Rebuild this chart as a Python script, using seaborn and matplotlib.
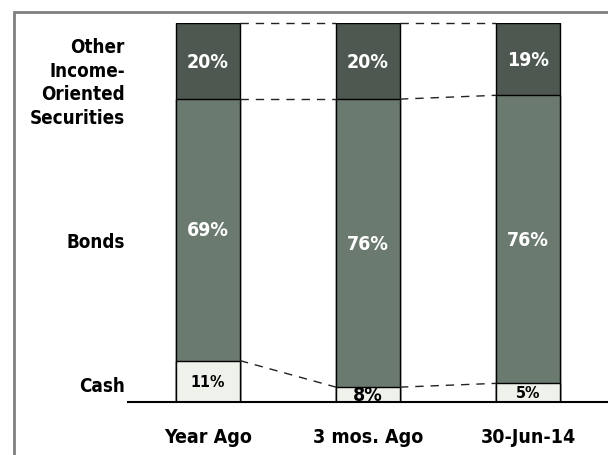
import matplotlib
matplotlib.use("Agg")
import matplotlib.pyplot as plt
import seaborn as sns
import pandas as pd
from matplotlib.patches import Rectangle

# ---- data ----
periods = ["Year Ago", "3 mos. Ago", "30-Jun-14"]
other = [20, 20, 19]
bonds = [69, 76, 76]
cash = [11, 8, 5]
row_labels = ["Other\nIncome-\nOriented\nSecurities", "Bonds", "Cash"]

c_other = "#4E5850"
c_bonds = "#6B7A6F"
c_cash = "#EEF2EB"

sns.set_theme(style="white")
plt.rcParams["font.family"] = ["DejaVu Sans"]
plt.rcParams["font.stretch"] = "condensed"
plt.rcParams["font.weight"] = "bold"

fig = plt.figure(figsize=(6.08, 4.56), dpi=100)
W, H = 608, 456
ax = fig.add_axes([128 / W, (H - 403.3) / H, 480 / W, (403.3 - 24.3) / H])

df = pd.DataFrame({"period": periods, "other": other, "bonds": bonds, "cash": cash})
df["total"] = 100
df["below_other"] = df["total"] - df["other"]          # top of bonds
df["below_bonds"] = df["below_other"] - df["bonds"]    # top of cash

bw = 0.4
sns.barplot(data=df, x="period", y="total", color=c_other, width=bw,
            edgecolor="black", linewidth=1, saturation=1, ax=ax)
sns.barplot(data=df, x="period", y="below_other", color=c_bonds, width=bw,
            edgecolor="black", linewidth=1, saturation=1, ax=ax)
sns.barplot(data=df, x="period", y="below_bonds", color=c_cash, width=bw,
            edgecolor="black", linewidth=1, saturation=1, ax=ax)

ax.set_xlim(-0.5, 2.5)
ax.set_ylim(0, 100)
ax.set_xlabel("")
ax.set_ylabel("")
ax.set_yticks([])
for s in ["top", "right", "left"]:
    ax.spines[s].set_visible(False)
ax.spines["bottom"].set_color("black")
ax.spines["bottom"].set_linewidth(1.5)
ax.tick_params(axis="x", length=0, pad=18, labelsize=14)
for t in ax.get_xticklabels():
    t.set_fontweight("bold")
    t.set_fontstretch("condensed")
    t.set_color("black")

# connectors
for i in range(len(periods) - 1):
    for col in ["total", "below_other", "below_bonds"]:
        ax.plot([i + bw / 2, i + 1 - bw / 2], [df[col][i], df[col][i + 1]],
                color="#222222", lw=1, ls=(0, (6, 5)), clip_on=False)

# value labels
for i in range(len(periods)):
    top = df["total"][i]
    bo = df["below_other"][i]
    bb = df["below_bonds"][i]
    ax.text(i, (top + bo) / 2, f"{other[i]}%", color="white", ha="center",
            va="center", fontsize=14, fontweight="bold")
    ax.text(i, (bo + bb) / 2, f"{bonds[i]}%", color="white", ha="center",
            va="center", fontsize=14, fontweight="bold")
    fs = 14 if i == 1 else 11.5
    ax.text(i, bb / 2, f"{cash[i]}%", color="black", ha="center",
            va="center", fontsize=fs, fontweight="bold")

# row labels
label_y = [84.5, 42.3, 4.4]
for lab, y in zip(row_labels, label_y):
    ax.text(-0.52, y, lab, ha="right", va="center", fontsize=13.5,
            fontweight="bold", color="black", linespacing=1.3)

# frame
fig.patches.append(Rectangle((14 / W, -0.2), 1.2, (H - 13) / H + 0.2,
                             transform=fig.transFigure, fill=False,
                             edgecolor="#808080", linewidth=2))

fig.savefig("out.png", dpi=100)
